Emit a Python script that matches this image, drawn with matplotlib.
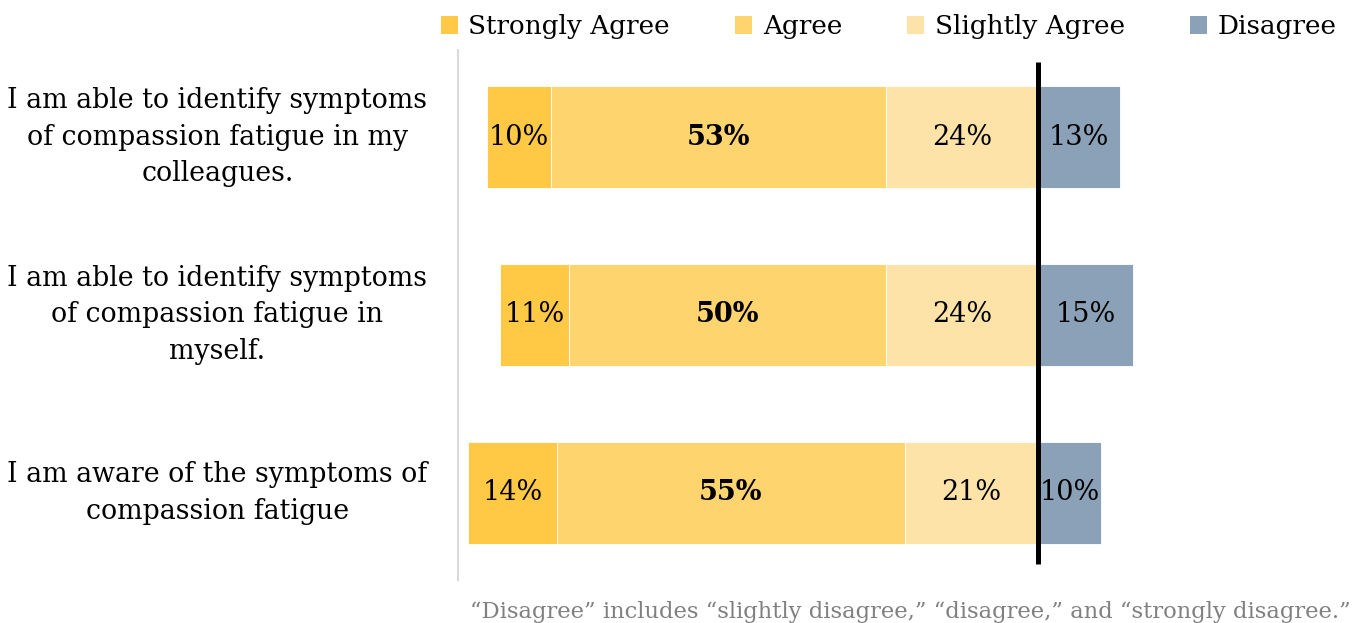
import matplotlib.pyplot as plt
from matplotlib.patches import Patch

plt.rcParams['font.family'] = ['DejaVu Serif']

questions = [
    "I am able to identify symptoms\nof compassion fatigue in my\ncolleagues.",
    "I am able to identify symptoms\nof compassion fatigue in\nmyself.",
    "I am aware of the symptoms of\ncompassion fatigue",
]
strongly_agree = [10, 11, 14]
agree = [53, 50, 55]
slightly_agree = [24, 24, 21]
disagree = [13, 15, 10]

series_names = ["Strongly Agree", "Agree", "Slightly Agree", "Disagree"]
colors = ["#FFC845", "#FDD46E", "#FDE3A8", "#8AA1B8"]

fig = plt.figure(figsize=(13.54, 6.23), dpi=100)
ax = fig.add_axes([0.3383, 0.069, 0.6617, 0.851])

y = list(range(len(questions)))
h = 0.57

# agree side stacks leftwards from zero, disagree goes right
for i in y:
    sa, a, sl, d = strongly_agree[i], agree[i], slightly_agree[i], disagree[i]
    segs = [(-(sa + a + sl), sa, 0), (-(a + sl), a, 1), (-sl, sl, 2), (0, d, 3)]
    vals = [sa, a, sl, d]
    for (left, width, k), v in zip(segs, vals):
        ax.barh(i, width, left=left, height=h, color=colors[k],
                edgecolor="white", linewidth=0.6)
        ax.text(left + width / 2, i, f"{v}%", ha="center", va="center",
                fontsize=19.5, fontweight="bold" if k == 1 else "normal",
                color="black")

ax.plot([0, 0], [-0.42, 2.40], color="black", lw=3.6, solid_capstyle="butt")

ax.set_xlim(-91.6, 49.9)
ax.set_ylim(2.49, -0.49)
ax.set_yticks([])
ax.set_xticks([])
for s in ["top", "right", "bottom"]:
    ax.spines[s].set_visible(False)
ax.spines["left"].set_color("#d9d9d9")
ax.spines["left"].set_linewidth(1.5)

for i, q in enumerate(questions):
    ax.text(-91.6 - 38.0, i, q, ha="center", va="center", fontsize=19.3,
            linespacing=1.45, transform=ax.transData, clip_on=False)

handles = [Patch(facecolor=c, edgecolor="none") for c in colors]
fig.legend(handles, series_names, loc="upper right", ncol=4,
           bbox_to_anchor=(1.0045, 1.015), frameon=False, fontsize=18.9,
           handlelength=0.65, handleheight=0.65, handletextpad=0.4,
           columnspacing=2.48)

fig.text(470 / 1354, 1 - 618 / 623, "\u201cDisagree\u201d includes \u201cslightly disagree,\u201d \u201cdisagree,\u201d and \u201cstrongly disagree.\u201d",
         fontsize=16.3, color="#808080", ha="left", va="baseline")

fig.savefig("out.png", dpi=100)
